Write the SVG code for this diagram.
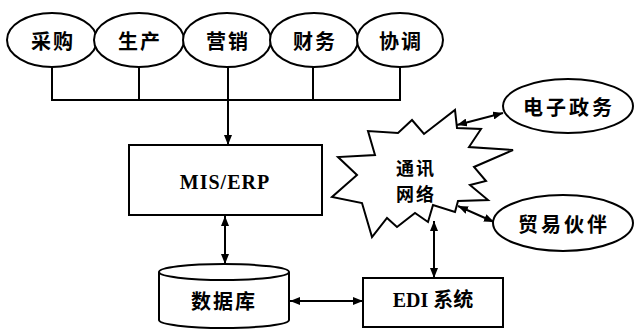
<svg xmlns="http://www.w3.org/2000/svg" width="635" height="329" viewBox="0 0 635 329">
<defs>
<marker id="ah" viewBox="0 0 10 8" refX="10" refY="4" markerWidth="10" markerHeight="8" markerUnits="userSpaceOnUse" orient="auto-start-reverse">
<path d="M0,0 L10,4 L0,8 Z" fill="#000"/>
</marker>
<style>
.s{fill:#fff;stroke:#000;stroke-width:2}
.c{fill:none;stroke:#000;stroke-width:2}
.cj{font-family:"Noto Sans CJK SC","Noto Sans CJK JP",sans-serif;font-weight:700;font-size:20px;text-anchor:middle;dominant-baseline:central;fill:#000;letter-spacing:2px}
.w{letter-spacing:3px}
.sm{font-size:18px}
.lt{font-family:"Liberation Serif","Noto Sans CJK SC",serif;font-weight:700;font-size:20px;text-anchor:middle;dominant-baseline:central;fill:#000}
</style>
</defs>
<rect width="635" height="329" fill="#fff"/>
<g id="connectors">
<path class="c" d="M52,67 V100 H400 V67 M139,67 V100 M313,67 V100 M228,67 V100"/>
<line class="c" x1="228" y1="100" x2="228" y2="145" marker-end="url(#ah)"/>
<line class="c" x1="225" y1="216" x2="225" y2="264" marker-start="url(#ah)" marker-end="url(#ah)"/>
<line class="c" x1="290" y1="301" x2="363" y2="301" marker-start="url(#ah)" marker-end="url(#ah)"/>
<line class="c" x1="434" y1="221" x2="434" y2="278" marker-start="url(#ah)" marker-end="url(#ah)"/>
<line class="c" x1="457" y1="125" x2="503" y2="113" marker-start="url(#ah)" marker-end="url(#ah)"/>
<line class="c" x1="458" y1="206" x2="494" y2="222" marker-start="url(#ah)" marker-end="url(#ah)"/>
</g>
<g id="n-caigou"><ellipse class="s" cx="52" cy="40" rx="45" ry="27"/><text class="cj" x="53" y="40">采购</text></g>
<g id="n-shengchan"><ellipse class="s" cx="139" cy="40" rx="45" ry="27"/><text class="cj" x="140" y="40">生产</text></g>
<g id="n-yingxiao"><ellipse class="s" cx="227" cy="40" rx="44" ry="27"/><text class="cj" x="228" y="40">营销</text></g>
<g id="n-caiwu"><ellipse class="s" cx="314" cy="40" rx="44" ry="27"/><text class="cj" x="315" y="40">财务</text></g>
<g id="n-xietiao"><ellipse class="s" cx="400" cy="40" rx="43" ry="27"/><text class="cj" x="401" y="40">协调</text></g>
<g id="n-mis"><rect class="s" x="129" y="145" width="193" height="70"/><text class="lt" x="225" y="182" letter-spacing="1">MIS/ERP</text></g>
<g id="n-db">
<path class="s" d="M159,272 V320 A65,8 0 0 0 289,320 V272"/>
<ellipse class="s" cx="224" cy="272" rx="65" ry="8"/>
<text class="cj" x="224" y="300">数据库</text></g>
<g id="n-edi"><rect class="s" x="363" y="278" width="140" height="49"/><text class="lt" x="433" y="300">EDI 系统</text></g>
<g id="n-net">
<polygon class="s" points="412,120 424,134 455,110 457,128 481,129 469,147 513,150 474,167 486,181 470,185 488,200 458,201 455,212 433,205 428,222 415,213 397,227 387,218 372,237 362,203 332,197 357,175 338,157 375,155 368,131 398,133"/>
<text class="cj sm" x="416" y="167">通讯</text><text class="cj sm" x="416" y="193">网络</text></g>
<g id="n-egov"><ellipse class="s" cx="568" cy="106" rx="65" ry="27"/><text class="cj w" x="569" y="106">电子政务</text></g>
<g id="n-partner"><ellipse class="s" cx="563" cy="223" rx="70" ry="28"/><text class="cj w" x="564" y="223">贸易伙伴</text></g>
</svg>
